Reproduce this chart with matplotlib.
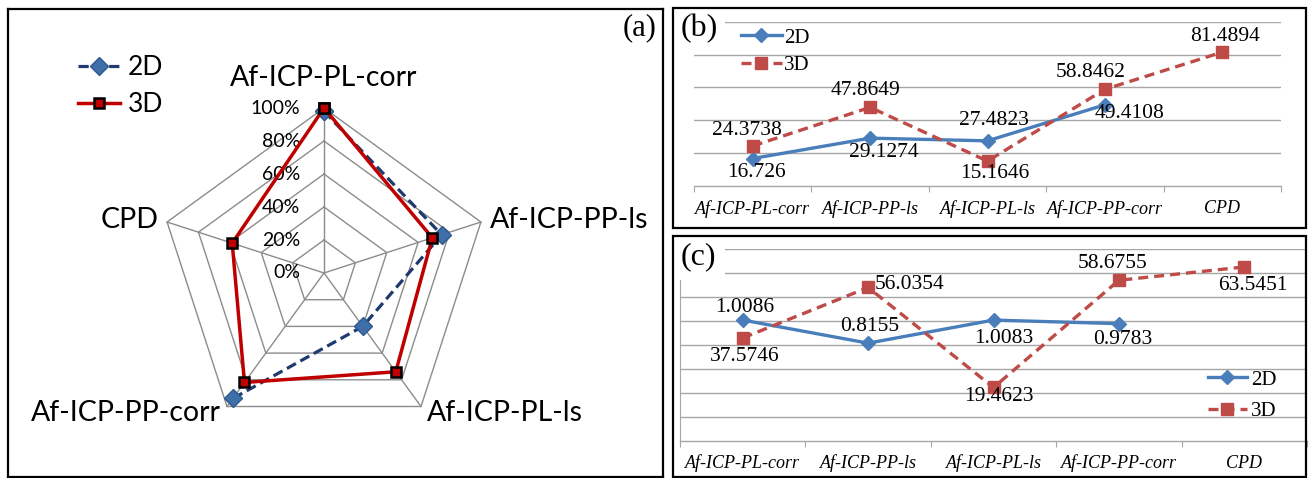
import numpy as np
import matplotlib.pyplot as plt
from matplotlib.patches import Rectangle
from matplotlib.lines import Line2D

W, H = 1309, 478

categories = ["Af-ICP-PL-corr", "Af-ICP-PP-ls", "Af-ICP-PL-ls", "Af-ICP-PP-corr", "CPD"]

# (a) radar, share of best result
radar_2d = [0.98, 0.75, 0.40, 0.94, np.nan]
radar_3d = [1.00, 0.69, 0.74, 0.82, 0.585]
radar_levels = [0.0, 0.2, 0.4, 0.6, 0.8, 1.0]
radar_level_labels = ["0%", "20%", "40%", "60%", "80%", "100%"]

# (b)
b_2d = [16.726, 29.1274, 27.4823, 49.4108, np.nan]
b_3d = [24.3738, 47.8649, 15.1646, 58.8462, 81.4894]

# (c)
c_2d = [1.0086, 0.8155, 1.0083, 0.9783, np.nan]
c_3d = [37.5746, 56.0354, 19.4623, 58.6755, 63.5451]

SANS = "Lato"
SERIF = "Liberation Serif"
GRID = "#A6A6A6"
BLUE = "#4A7EBB"
RED = "#BE4B48"
NAVY = "#1F3A6E"
RADAR_RED = "#C00000"


def px_axes(fig, left, top, right, bottom):
    return fig.add_axes([left / W, 1 - bottom / H, (right - left) / W, (bottom - top) / H])


def label_points(ax, xs, ys, offsets):
    # offsets in pixels, y down
    for x, y, off in zip(xs, ys, offsets):
        if off is None or np.isnan(y):
            continue
        dx, dy, ha = off
        ax.annotate(f"{y:g}", xy=(x, y), xytext=(dx * 0.72, -dy * 0.72),
                    textcoords="offset points", ha=ha, va="center",
                    fontsize=15.5, family=SERIF, zorder=6)


fig = plt.figure(figsize=(W / 100, H / 100), dpi=100)

# ---------------- (a) radar ----------------
cx, cy, R = 324, 273, 165
left, top, right, bottom = 8, 9, 663, 477
ax = px_axes(fig, left, top, right, bottom)
ax.set_xlim(-(cx - left) / R, (right - cx) / R)
ax.set_ylim(-(bottom - cy) / R, (cy - top) / R)
ax.set_xticks([])
ax.set_yticks([])
for s in ax.spines.values():
    s.set_color("black")
    s.set_linewidth(1.6)

theta = np.pi / 2 - 2 * np.pi * np.arange(len(categories)) / len(categories)
ct, st = np.cos(theta), np.sin(theta)
closed = list(range(len(categories))) + [0]

for lv in radar_levels[1:]:
    ax.plot(lv * ct[closed], lv * st[closed], color="#8C8C8C", lw=1, zorder=1)
for k in range(len(categories)):
    ax.plot([0, ct[k]], [0, st[k]], color="#8C8C8C", lw=1, zorder=1)

for lv, lab in zip(radar_levels, radar_level_labels):
    ax.text(-24 / R, lv, lab, ha="right", va="center", fontsize=14, family=SANS, zorder=2)

dash2d = (0, (3.2, 1.6))
r2 = np.array(radar_2d)[closed]
r3 = np.array(radar_3d)[closed]
ax.plot(r2 * ct[closed], r2 * st[closed], color=NAVY, lw=2.3, ls=dash2d,
        marker="D", ms=9, mfc="#3F6FA8", mec="#2F5A90", zorder=3)
ax.plot(r3 * ct[closed], r3 * st[closed], color=RADAR_RED, lw=2.5,
        marker="s", ms=7.5, mfc=RADAR_RED, mec="black", mew=1.8, zorder=4)

cat_offsets = [(0, -30, "center"), (9, -2, "left"), (6, 6.5, "left"),
               (-6, 6.5, "right"), (-8, -2, "right")]
for k, (name, (dx, dy, ha)) in enumerate(zip(categories, cat_offsets)):
    ax.annotate(name, xy=(ct[k], st[k]), xytext=(dx * 0.72, -dy * 0.72),
                textcoords="offset points", ha=ha, va="center",
                fontsize=20.5, family=SANS)

ax.text(0.99, 0.96, "(a)", transform=ax.transAxes, ha="right", va="center",
        fontsize=22, family=SERIF)

h2 = Line2D([], [], color=NAVY, lw=2.3, ls=dash2d, marker="D", ms=9,
            mfc="#3F6FA8", mec="#2F5A90")
h3 = Line2D([], [], color=RADAR_RED, lw=2.5, marker="s", ms=7.5, mfc=RADAR_RED,
            mec="black", mew=1.8)
ax.legend([h2, h3], ["2D", "3D"], loc="upper left",
          bbox_to_anchor=(78 / W, 1 - 55 / H), bbox_transform=fig.transFigure,
          frameon=False, borderpad=0, borderaxespad=0, handlelength=1.6,
          handletextpad=0.3, labelspacing=0.46, prop={"family": SANS, "size": 19})


# ---------------- line panels ----------------
def style_line_axes(ax):
    ax.set_xlim(-0.5, len(categories) - 0.5)
    for side in ("top", "right", "left"):
        ax.spines[side].set_visible(False)
    ax.spines["bottom"].set_color(GRID)
    ax.spines["bottom"].set_linewidth(1)
    ax.set_xticks(np.arange(-0.5, len(categories), 1.0))
    ax.set_xticklabels([])
    ax.tick_params(axis="x", which="major", direction="out", length=4, color=GRID)
    ax.set_xticks(range(len(categories)), minor=True)
    ax.set_xticklabels(categories, minor=True, family=SERIF, style="italic", fontsize=13)
    ax.tick_params(axis="x", which="minor", length=0, pad=10)
    ax.tick_params(axis="y", left=False, labelleft=False, right=False, labelright=False)
    ax.set_facecolor("none")


xs = np.arange(len(categories))
line2d = dict(color=BLUE, lw=2.4, marker="D", ms=7.5, mfc=BLUE, mec=BLUE, zorder=4)
line3d = dict(color=RED, lw=2.4, ls=(0, (3, 1.8)), marker="s", ms=8.5, mfc=RED, mec=RED, zorder=4)
leg_kw = dict(bbox_transform=fig.transFigure, frameon=False, borderpad=0, borderaxespad=0,
              prop={"family": SERIF, "size": 15})

# (b)
axb = px_axes(fig, 694, 21.7, 1281, 186)
style_line_axes(axb)
axb.set_ylim(0, 100)
axb.set_yticks([20, 40, 60, 80, 100])
axb.yaxis.grid(True, color=GRID, lw=1)
axb.set_axisbelow(True)
axb.plot(xs, b_2d, label="2D", **line2d)
axb.plot(xs, b_3d, label="3D", **line3d)
label_points(axb, xs, b_2d, [(4, 14.4, "center"), (14, 14, "center"), (6, -20, "center"),
                             (25, 8.5, "center"), None])
label_points(axb, xs, b_3d, [(-6, -15.7, "center"), (-5, -16.6, "center"), (7, 12, "center"),
                             (-14, -16.6, "center"), (3, -15.4, "center")])
axb.legend(loc="upper left", bbox_to_anchor=(741 / W, 1 - 28 / H),
           handlelength=1.95, handletextpad=0.1, labelspacing=0.38, **leg_kw)
fig.text(681 / W, 1 - 29 / H, "(b)", ha="left", va="center", fontsize=23, family=SERIF,
         zorder=5, bbox=dict(facecolor="white", edgecolor="none", pad=5))

# (c): 2D on its own scale behind, 3D in front
axc2 = px_axes(fig, 680, 249.3, 1307, 440.7)
axc2.set_ylim(0, 1.6)
axc2.set_yticks(np.arange(0.2, 1.61, 0.2))
axc2.yaxis.grid(True, color=GRID, lw=1)
style_line_axes(axc2)
axc2.spines["left"].set_visible(True)
axc2.spines["left"].set_color(GRID)
p2, = axc2.plot(xs, c_2d, label="2D", **line2d)
label_points(axc2, xs, c_2d, [(2, -12.8, "center"), (2, -16.5, "center"),
                              (10, 18, "center"), (4, 16, "center"), None])

axc = px_axes(fig, 680, 249.3, 1307, 440.7)
axc.set_ylim(0, 70)
axc.set_xlim(-0.5, len(categories) - 0.5)
axc.axis("off")
p3, = axc.plot(xs, c_3d, label="3D", **line3d)
label_points(axc, xs, c_3d, [(2, 18.7, "center"), (6.6, -2.5, "left"), (5, 9, "center"),
                             (-6, -17, "center"), (9, 19, "center")])
axc.legend([p2, p3], ["2D", "3D"], loc="upper left", bbox_to_anchor=(1208 / W, 1 - 370 / H),
           handlelength=1.85, handletextpad=0.2, labelspacing=0.56, **leg_kw)
fig.text(681 / W, 1 - 257 / H, "(c)", ha="left", va="center", fontsize=23, family=SERIF,
         zorder=5, bbox=dict(facecolor="white", edgecolor="none", pad=6))

# panel frames
for (l, t, r, b) in [(673, 8, 1306, 228), (673, 236, 1306, 477)]:
    fig.patches.append(Rectangle((l / W, 1 - b / H), (r - l) / W, (b - t) / H,
                                 transform=fig.transFigure, fill=False,
                                 edgecolor="black", lw=1.6, zorder=10))

fig.savefig("out.png", dpi=100)
